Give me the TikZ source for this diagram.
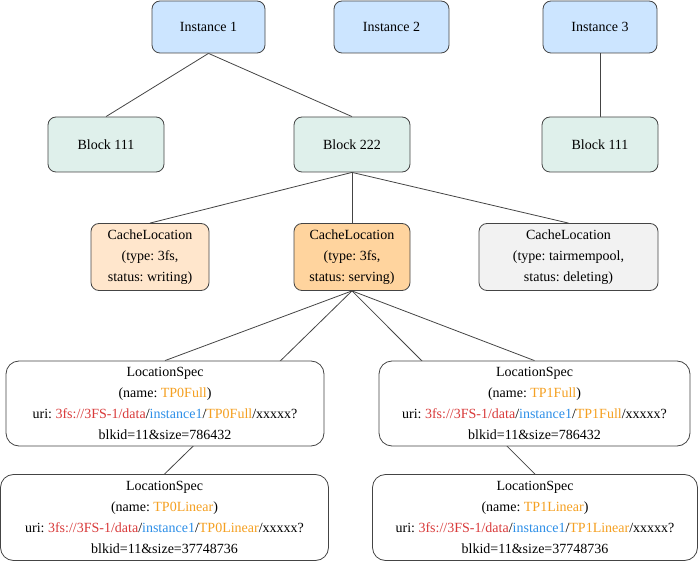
\documentclass[tikz,border=0pt]{standalone}
\usepackage{fontspec}
\setmainfont{Liberation Serif}
\usetikzlibrary{backgrounds}
\frenchspacing
\definecolor{instfill}{HTML}{CCE5FF}
\definecolor{blkfill}{HTML}{DFF0EB}
\definecolor{cwfill}{HTML}{FFE6CC}
\definecolor{csfill}{HTML}{FFD49E}
\definecolor{cdfill}{HTML}{F2F2F2}
\definecolor{edgecol}{HTML}{444444}
\definecolor{urired}{HTML}{D93A3A}
\definecolor{uriblue}{HTML}{2D8FE8}
\definecolor{uriorange}{HTML}{F5A021}
\newcommand{\ored}[1]{\textcolor{urired}{#1}}
\newcommand{\oblue}[1]{\textcolor{uriblue}{#1}}
\newcommand{\oorange}[1]{\textcolor{uriorange}{#1}}
\tikzset{
  basebox/.style={draw=edgecol, line width=0.8pt, rounded corners=8pt, align=center,
    inner sep=0pt, font=\fontsize{14}{21}\selectfont\frenchspacing},
  instbox/.style={basebox, fill=instfill, minimum width=113pt, minimum height=52pt},
  blkbox/.style={basebox, fill=blkfill, minimum width=116pt, minimum height=55pt},
  cachebox/.style={basebox, minimum height=67pt},
  specbox/.style={basebox, fill=white, rounded corners=13pt, minimum height=85pt},
  link/.style={draw=edgecol, line width=0.8pt}
}
\begin{document}
\begin{tikzpicture}[x=1pt,y=-1pt]
\useasboundingbox (0,0) rectangle (699,561);
\node[instbox] (i1) at (208.5,27) {Instance 1};
\node[instbox, minimum width=115pt] (i2) at (391.5,27) {Instance 2};
\node[instbox, minimum width=114pt] (i3) at (600,27) {Instance 3};
\node[blkbox] (b1) at (106,144.5) {Block 111};
\node[blkbox] (b2) at (352,144.5) {Block 222};
\node[blkbox] (b3) at (600,144.5) {Block 111};
\node[cachebox, fill=cwfill, minimum width=118pt] (c1) at (150,257) {CacheLocation\\(type: 3fs,\\status: writing)};
\node[cachebox, fill=csfill, minimum width=116pt] (c2) at (352,257) {CacheLocation\\(type: 3fs,\\status: serving)};
\node[cachebox, fill=cdfill, minimum width=179pt] (c3) at (568.5,257) {CacheLocation\\(type: tairmempool,\\status: deleting)};
\node[specbox, minimum width=318pt] (s0f) at (165,403.5) {LocationSpec\\(name: \oorange{TP0Full})\\uri: \ored{3fs://3FS-1/data}/\oblue{instance1}/\oorange{TP0Full}/xxxxx?\\blkid=11\&size=786432};
\node[specbox, minimum width=311pt] (s1f) at (534.5,403.5) {LocationSpec\\(name: \oorange{TP1Full})\\uri: \ored{3fs://3FS-1/data}/\oblue{instance1}/\oorange{TP1Full}/xxxxx?\\blkid=11\&size=786432};
\node[specbox, minimum width=328pt, minimum height=86pt] (s0l) at (164.5,517.5) {LocationSpec\\(name: \oorange{TP0Linear})\\uri: \ored{3fs://3FS-1/data}/\oblue{instance1}/\oorange{TP0Linear}/xxxxx?\\blkid=11\&size=37748736};
\node[specbox, minimum width=325pt, minimum height=86pt] (s1l) at (535,517.5) {LocationSpec\\(name: \oorange{TP1Linear})\\uri: \ored{3fs://3FS-1/data}/\oblue{instance1}/\oorange{TP1Linear}/xxxxx?\\blkid=11\&size=37748736};
\begin{scope}[on background layer]
\draw[link] (i1.south) -- (b1.north);
\draw[link] (i1.south) -- (b2.north);
\draw[link] (i3.south) -- (b3.north);
\draw[link] (b2.south) -- (c1.north);
\draw[link] (b2.south) -- (c2.north);
\draw[link] (b2.south) -- (c3.north);
\draw[link] (c2.south) -- (s0f.north);
\draw[link] (c2.south) -- (s0l.north);
\draw[link] (c2.south) -- (s1f.north);
\draw[link] (c2.south) -- (s1l.north);
\end{scope}
\end{tikzpicture}
\end{document}
